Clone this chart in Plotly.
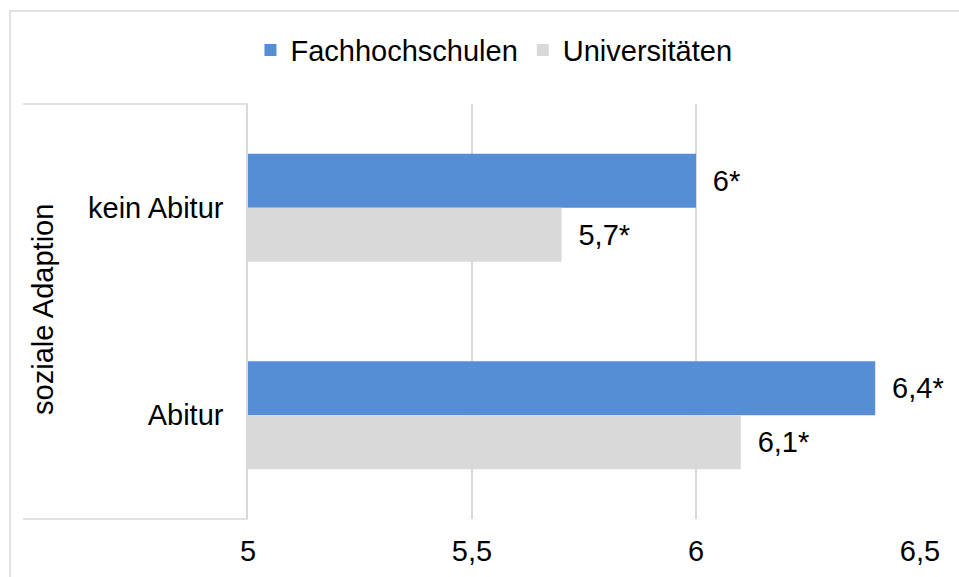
import plotly.graph_objects as go

categories = ["kein Abitur", "Abitur"]
group_label = "soziale Adaption"
fachhochschulen = [6.0, 6.4]
universitaeten = [5.7, 6.1]
x_ticks = [5, 5.5, 6, 6.5]
x_tick_labels = ["5", "5,5", "6", "6,5"]

FONT = "Liberation Sans, Arial, sans-serif"
BLUE = "#558ED5"
GREY = "#D9D9D9"
LINE = "#D9D9D9"


def fmt(v):
    return "\u00a0\u2009" + (f"{v:g}".replace(".", ",")) + "*"


fig = go.Figure()
fig.add_trace(go.Bar(
    name="Fachhochschulen", y=categories, x=fachhochschulen, orientation="h",
    marker=dict(color=BLUE, line=dict(width=0)),
    text=[fmt(v) for v in fachhochschulen], textposition="outside",
    textfont=dict(size=29, color="#000000", family=FONT),
    cliponaxis=False, constraintext="none", hoverinfo="skip",
))
fig.add_trace(go.Bar(
    name="Universitäten", y=categories, x=universitaeten, orientation="h",
    marker=dict(color=GREY, line=dict(width=0)),
    text=[fmt(v) for v in universitaeten], textposition="outside",
    textfont=dict(size=29, color="#000000", family=FONT),
    cliponaxis=False, constraintext="none", hoverinfo="skip",
))

fig.update_layout(
    width=959, height=577,
    margin=dict(l=248, r=39, t=104, b=58, autoexpand=False),
    paper_bgcolor="white", plot_bgcolor="white",
    font=dict(family=FONT, size=29, color="#000000"),
    separators=",.",
    barmode="group", bargap=0.48, bargroupgap=0,
    showlegend=True,
    legend=dict(orientation="h", x=0.366, xanchor="center", y=1.13, yanchor="middle",
                font=dict(size=29, family=FONT), traceorder="normal",
                bgcolor="rgba(0,0,0,0)", itemwidth=30),
    xaxis=dict(range=[5, 6.5], tickvals=x_ticks, ticktext=x_tick_labels,
               showgrid=True, gridcolor=LINE, gridwidth=1.5, zeroline=False,
               showline=False, ticks="", ticklabelstandoff=12, automargin=False,
               tickfont=dict(size=29, family=FONT)),
    yaxis=dict(autorange="reversed", type="category", showgrid=False,
               showline=True, linecolor=LINE, linewidth=1.5, ticks="",
               ticklabelstandoff=17, automargin=False,
               tickfont=dict(size=29, family=FONT)),
    annotations=[dict(text=group_label, textangle=-90, xref="paper", yref="paper",
                      x=-0.305, y=0.504, xanchor="center", yanchor="middle",
                      showarrow=False, font=dict(size=29, family=FONT))],
    shapes=[
        dict(type="rect", xref="paper", yref="paper", x0=-0.3542, y0=-0.3, x1=1.2, y1=1.224,
             line=dict(color=LINE, width=1.5), layer="below"),
        dict(type="line", xref="paper", yref="paper", x0=-0.3348, x1=0, y0=1, y1=1,
             line=dict(color=LINE, width=1.5)),
        dict(type="line", xref="paper", yref="paper", x0=-0.3348, x1=0, y0=0, y1=0,
             line=dict(color=LINE, width=1.5)),
    ],
)

fig.write_html(
    "out.html",
    config={"displayModeBar": False},
    post_script="document.body.style.margin='0';document.body.style.overflow='hidden';",
)
